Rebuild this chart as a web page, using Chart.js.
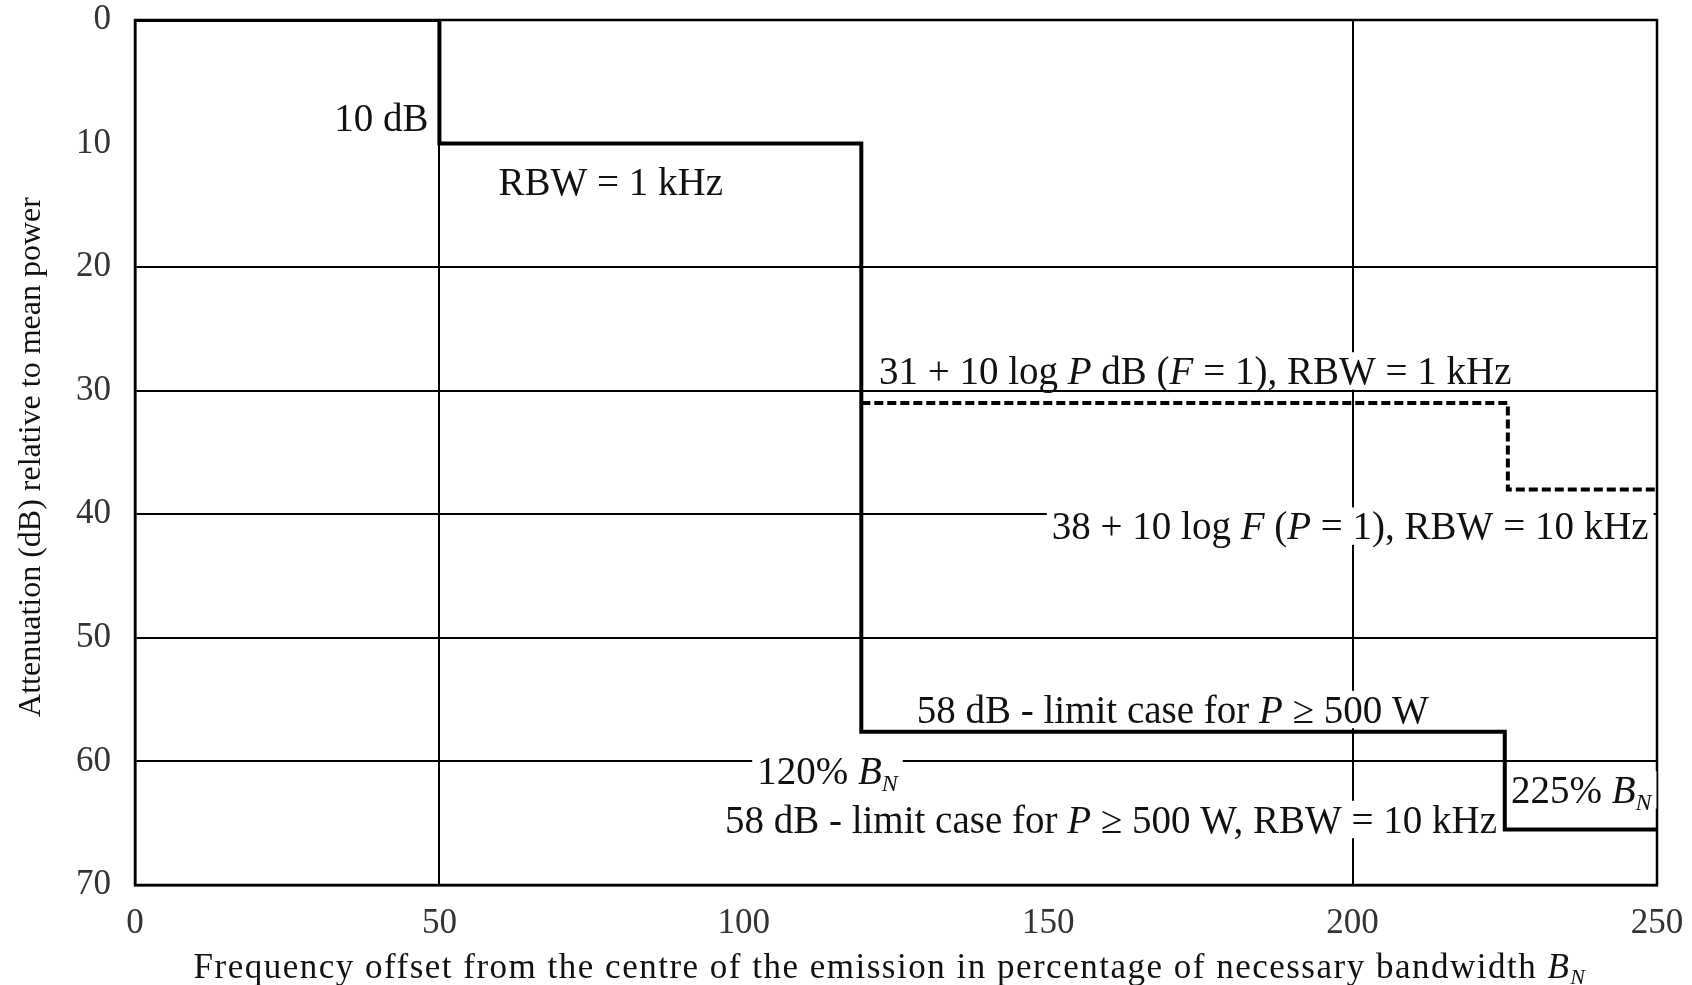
<!DOCTYPE html>
<html>
<head>
<meta charset="utf-8">
<script src="https://cdn.jsdelivr.net/npm/chart.js@4"></script>
<style>
html,body{margin:0;padding:0;background:#fff;}
canvas{display:block;}
</style>
</head>
<body>
<canvas id="c" width="1692" height="985"></canvas>
<script>
// ---- data ----
const breakX = [0, 50, 119.3, 225, 250];        // frequency offset (% of BN)
const limitMain = [0, 10, 57.6, 65.5, 65.5];     // attenuation (dB), solid mask
const dashX = [119.3, 225.5, 250];
const limitDash = [31, 38, 38];                  // attenuation (dB), dashed mask
const xTicks = [0, 50, 100, 150, 200, 250];
const yTicks = [0, 10, 20, 30, 40, 50, 60, 70];
const xGridShown = [50, 200, 250];
const yGridShown = [0, 20, 30, 40, 50, 60];

const xTitle = [{t:'Frequency offset from the centre of the emission in percentage of necessary bandwidth '},{t:'B',it:1},{t:'N',it:1,sub:1}];
const yTitle = 'Attenuation (dB) relative to mean power';

// annotation texts (segments) with their anchor in data units
const notes = [
  {x:48.2, y:7.87, align:'right', bg:false, segs:[{t:'10 dB'}]},
  {x:59.7, y:13.06, align:'left', bg:false, segs:[{t:'RBW = 1 kHz'}]},
  {x:122.2, y:28.4, align:'left', bg:true, segs:[{t:'31 + 10 log '},{t:'P',it:1},{t:' dB ('},{t:'F',it:1},{t:' = 1), RBW = 1 kHz'}]},
  {x:150.6, y:40.96, align:'left', bg:true, segs:[{t:'38 + 10 log '},{t:'F',it:1},{t:' ('},{t:'P',it:1},{t:' = 1), RBW = 10 kHz'}]},
  {x:128.4, y:55.8, align:'left', bg:true, segs:[{t:'58 dB - limit case for '},{t:'P',it:1},{t:' \u2265 500 W'}]},
  {x:102.2, y:60.75, align:'left', bg:true, segs:[{t:'120% '},{t:'B',it:1},{t:'N',it:1,sub:1}]},
  {x:226.0, y:62.3, align:'left', bg:true, segs:[{t:'225% '},{t:'B',it:1},{t:'N',it:1,sub:1}]},
  {x:96.9, y:64.7, align:'left', bg:true, segs:[{t:'58 dB - limit case for '},{t:'P',it:1},{t:' \u2265 500 W, RBW = 10 kHz'}]}
];

const SERIF = '"Liberation Serif", "Times New Roman", serif';
const NOTE_SIZE = 39;

function segFont(s, size){
  const sz = s.sub ? Math.round(size*0.62) : size;
  return (s.it ? 'italic ' : '') + sz + 'px ' + SERIF;
}
function measureRich(ctx, segs, size){
  let w = 0;
  for (const s of segs){ ctx.font = segFont(s,size); w += ctx.measureText(s.t).width; }
  return w;
}
function drawRich(ctx, segs, x, cy, size, align, bg){
  const w = measureRich(ctx, segs, size);
  let x0 = align === 'right' ? x - w : (align === 'center' ? x - w/2 : x);
  if (bg){
    ctx.fillStyle = '#fff';
    ctx.fillRect(x0 - 5, cy - size*0.48, w + 10, size*0.96);
  }
  const base = cy + size*0.34;
  ctx.fillStyle = '#111';
  ctx.textBaseline = 'alphabetic';
  ctx.textAlign = 'left';
  for (const s of segs){
    ctx.font = segFont(s,size);
    ctx.fillText(s.t, x0, base + (s.sub ? size*0.18 : 0));
    x0 += ctx.measureText(s.t).width;
  }
}

const annotPlugin = {
  id:'annot',
  beforeDatasetsDraw(chart){
    const ctx = chart.ctx, xs = chart.scales.x, ys = chart.scales.y, a = chart.chartArea;
    ctx.save();
    ctx.strokeStyle = '#000';
    ctx.lineWidth = 2.5;
    ctx.strokeRect(a.left, a.top, a.right - a.left, a.bottom - a.top);
    for (const n of notes){
      drawRich(ctx, n.segs, xs.getPixelForValue(n.x), ys.getPixelForValue(n.y), NOTE_SIZE, n.align, n.bg);
    }
    ctx.restore();
  },
  afterDraw(chart){
    const ctx = chart.ctx;
    ctx.save();
    ctx.letterSpacing = '1.5px';
    drawRich(ctx, xTitle, 890, 966, 35, 'center', false);
    ctx.letterSpacing = '0px';
    ctx.translate(32, 457);
    ctx.rotate(-Math.PI/2);
    ctx.font = '32px ' + SERIF;
    ctx.fillStyle = '#111';
    ctx.textAlign = 'center';
    ctx.textBaseline = 'middle';
    ctx.fillText(yTitle, 0, 0);
    ctx.restore();
  }
};

new Chart(document.getElementById('c'), {
  type: 'line',
  data: {
    datasets: [
      {
        data: breakX.map((x,i)=>({x:x, y:limitMain[i]})),
        stepped: 'before',
        borderColor: '#000',
        borderWidth: 4,
        borderJoinStyle: 'miter',
        borderCapStyle: 'butt',
        pointRadius: 0,
        fill: false
      },
      {
        data: dashX.map((x,i)=>({x:x, y:limitDash[i]})),
        stepped: 'before',
        borderColor: '#000',
        borderWidth: 4,
        borderDash: [9, 4],
        borderJoinStyle: 'miter',
        borderCapStyle: 'butt',
        pointRadius: 0,
        fill: false
      }
    ]
  },
  options: {
    responsive: false,
    animation: false,
    layout: { padding: { left: 0, top: 20, right: 35, bottom: 0 } },
    plugins: { legend: { display: false }, tooltip: { enabled: false } },
    scales: {
      x: {
        type: 'linear', min: 0, max: 250,
        afterBuildTicks: s => { s.ticks = xTicks.map(v => ({value: v})); },
        afterFit: s => { s.height = 100; s.paddingLeft = 0; s.paddingRight = 0; },
        ticks: { font: { family: SERIF, size: 35 }, color: '#333', padding: 18, maxRotation: 0 },
        grid: {
          drawTicks: false,
          lineWidth: 2,
          color: c => xGridShown.includes(c.tick && c.tick.value) ? '#000' : 'rgba(0,0,0,0)'
        },
        border: { display: true, color: '#000', width: 2.5 }
      },
      y: {
        type: 'linear', min: 0, max: 70, reverse: true,
        afterBuildTicks: s => { s.ticks = yTicks.map(v => ({value: v})); },
        afterFit: s => { s.width = 135; s.paddingTop = 0; s.paddingBottom = 0; },
        ticks: { font: { family: SERIF, size: 35 }, color: '#333', padding: 24 },
        grid: {
          drawTicks: false,
          lineWidth: 2,
          color: c => yGridShown.includes(c.tick && c.tick.value) ? '#000' : 'rgba(0,0,0,0)'
        },
        border: { display: true, color: '#000', width: 2.5 }
      }
    }
  },
  plugins: [annotPlugin]
});
</script>
</body>
</html>
